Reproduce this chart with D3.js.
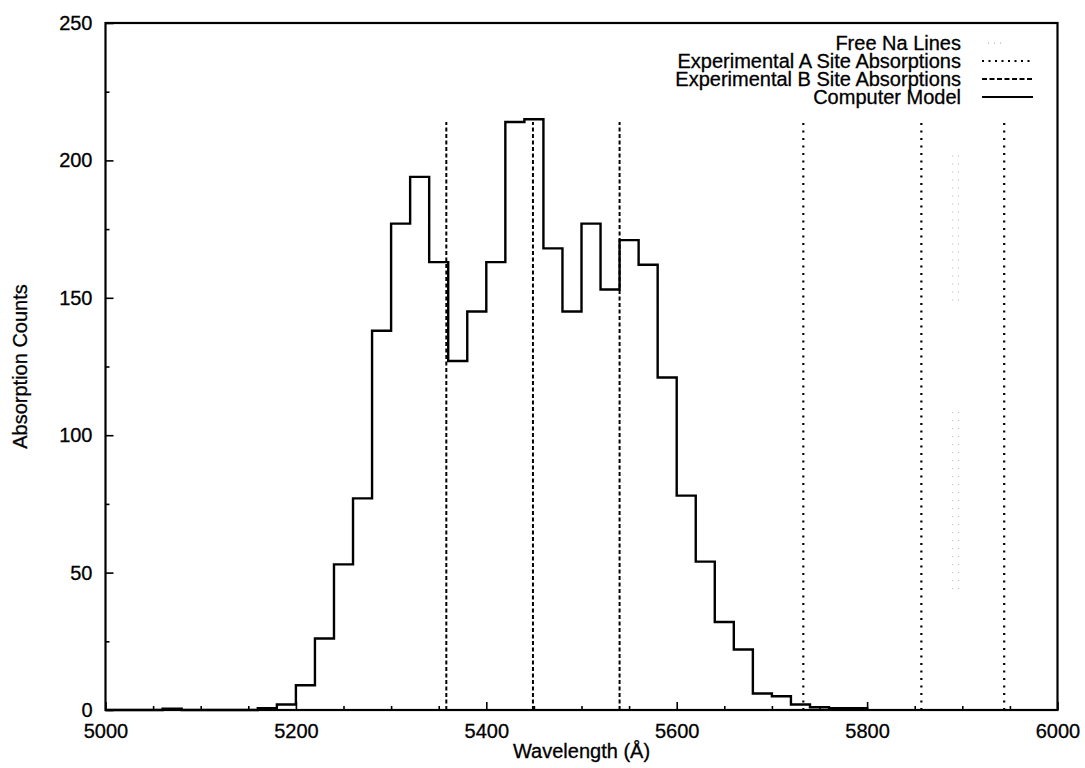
<!DOCTYPE html>
<html>
<head>
<meta charset="utf-8">
<script src="https://cdn.jsdelivr.net/npm/d3@7"></script>
<style>
  html, body { margin: 0; padding: 0; background: #fff; }
  svg { display: block; }
  text { font-family: "Liberation Sans", Arial, Helvetica, sans-serif; fill: #000; stroke: #000; stroke-width: 0.3px; }
</style>
</head>
<body>
<svg id="chart" width="1085" height="768"></svg>
<script>
// ---------------- data ----------------
const binStartWavelength = 5000;   // first bin start (Å)
const binWidth = 20;               // Å per bin
const modelCounts = [
  0, 0, 0, 0.5, 0, 0, 0, 0, 0.7, 2,
  9, 26, 53, 77, 138, 177, 194, 163, 127, 145,
  163, 214, 215, 168, 145, 177, 153, 171, 162, 121,
  78, 54, 32, 22, 6, 5, 2, 1, 0.7, 0.7
];
const siteBLines = [5358, 5449, 5540];      // Experimental B Site Absorptions
const siteALines = [5733, 5857, 5944];      // Experimental A Site Absorptions
const freeNaLines = [5890, 5896];           // Free Na Lines
const freeNaSegments = [[149, 204], [44, 109]];
const expLineTop = 214;
const xMajorTicks = [5000, 5200, 5400, 5600, 5800, 6000];
const yMajorTicks = [0, 50, 100, 150, 200, 250];
const xDomain = [5000, 6000];
const yDomain = [0, 250];
const legendLabels = ["Free Na Lines", "Experimental A Site Absorptions", "Experimental B Site Absorptions", "Computer Model"];
const xTitle = "Wavelength (Å)";
const yTitle = "Absorption Counts";

// ---------------- layout ----------------
const svg = d3.select("#chart");
const L = 105.5, R = 1057.5, T = 23, B = 710;
const x = d3.scaleLinear().domain(xDomain).range([L, R]);
const y = d3.scaleLinear().domain(yDomain).range([B, T]);
const FS = 20;

const xMinor = d3.range(xDomain[0], xDomain[1] + 1, 50).filter(v => !xMajorTicks.includes(v));
const yMinor = d3.range(yDomain[0], yDomain[1] + 1, 25).filter(v => !yMajorTicks.includes(v));

function styleAxis(g) {
  g.select(".domain").remove();
  g.selectAll(".tick line").attr("stroke", "#000").attr("stroke-width", 1.6);
  g.selectAll("text").style("font-size", FS + "px").attr("fill", "#000");
}

svg.append("g").attr("transform", `translate(0,${B})`)
  .call(d3.axisBottom(x).tickValues(xMinor).tickSize(-4).tickFormat(""))
  .call(styleAxis);
svg.append("g").attr("transform", `translate(0,${B})`)
  .call(d3.axisBottom(x).tickValues(xMajorTicks).tickSize(-8).tickPadding(13.5).tickFormat(d3.format("d")))
  .call(styleAxis);
svg.append("g").attr("transform", `translate(${L},0)`)
  .call(d3.axisLeft(y).tickValues(yMinor).tickSize(-4).tickFormat(""))
  .call(styleAxis);
svg.append("g").attr("transform", `translate(${L},0)`)
  .call(d3.axisLeft(y).tickValues(yMajorTicks).tickSize(-8).tickPadding(13).tickFormat(d3.format("d")))
  .call(styleAxis);

// frame
svg.append("rect")
  .attr("x", L).attr("y", T).attr("width", R - L).attr("height", B - T)
  .attr("fill", "none").attr("stroke", "#000").attr("stroke-width", 2.2);

// experimental vertical lines
const vlines = svg.append("g");
vlines.selectAll(".b").data(siteBLines).join("line")
  .attr("x1", d => x(d)).attr("x2", d => x(d))
  .attr("y1", y(0)).attr("y2", y(expLineTop))
  .attr("stroke", "#000").attr("stroke-width", 2).attr("stroke-dasharray", "4,2.5");
vlines.selectAll(".a").data(siteALines).join("line")
  .attr("x1", d => x(d)).attr("x2", d => x(d))
  .attr("y1", y(0)).attr("y2", y(expLineTop))
  .attr("stroke", "#000").attr("stroke-width", 2.2).attr("stroke-dasharray", "2,5.5");

// free Na lines (faint, sparse)
freeNaLines.forEach(w => {
  freeNaSegments.forEach(s => {
    vlines.append("line")
      .attr("x1", x(w)).attr("x2", x(w))
      .attr("y1", y(s[0])).attr("y2", y(s[1]))
      .attr("stroke", "#b0b0b0").attr("stroke-width", 1).attr("stroke-dasharray", "1,7");
  });
});

// computer model histogram (step line)
const pts = modelCounts.map((c, i) => ({ w: binStartWavelength + i * binWidth, c }));
pts.push({ w: binStartWavelength + modelCounts.length * binWidth, c: 0 });
const stepLine = d3.line().x(d => x(d.w)).y(d => y(d.c)).curve(d3.curveStepAfter);
svg.append("path").datum(pts)
  .attr("d", stepLine)
  .attr("fill", "none").attr("stroke", "#000").attr("stroke-width", 2.4)
  .attr("stroke-linejoin", "miter");

// legend
const legX = 961, legRows = [43, 61, 79, 97];
const legStyles = [
  { stroke: "#a0a0a0", w: 1, dash: "1,5", x1: 988, x2: 1003 },
  { stroke: "#000", w: 2, dash: "2,4.5", x1: 982, x2: 1033 },
  { stroke: "#000", w: 1.8, dash: "5,2.5", x1: 982, x2: 1033 },
  { stroke: "#000", w: 2, dash: null, x1: 982, x2: 1033 }
];
legendLabels.forEach((lab, i) => {
  svg.append("text").attr("x", legX).attr("y", legRows[i] + 7)
    .attr("text-anchor", "end").style("font-size", FS + "px").text(lab);
  const ln = svg.append("line")
    .attr("x1", legStyles[i].x1).attr("x2", legStyles[i].x2).attr("y1", legRows[i]).attr("y2", legRows[i])
    .attr("stroke", legStyles[i].stroke).attr("stroke-width", legStyles[i].w);
  if (legStyles[i].dash) ln.attr("stroke-dasharray", legStyles[i].dash);
});

// axis titles
svg.append("text").attr("x", (L + R) / 2).attr("y", 758)
  .attr("text-anchor", "middle").style("font-size", FS + "px").text(xTitle);
svg.append("text").attr("transform", `translate(27,${(T + B) / 2}) rotate(-90)`)
  .attr("text-anchor", "middle").style("font-size", FS + "px").text(yTitle);
</script>
</body>
</html>
